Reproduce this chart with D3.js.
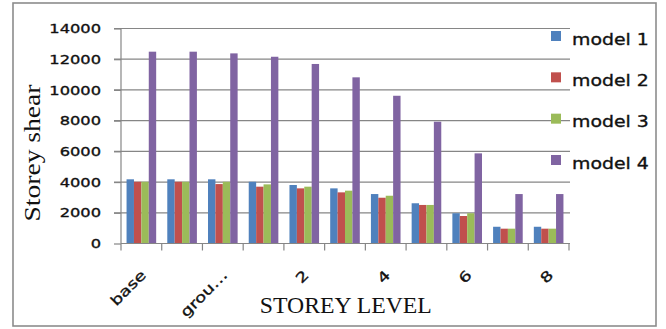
<!DOCTYPE html>
<html><head><meta charset="utf-8">
<script src="https://cdn.jsdelivr.net/npm/d3@7"></script>
<style>html,body{margin:0;padding:0;background:#fff;}svg{display:block;}</style>
</head><body>
<svg id="chart" width="666" height="329"></svg>
<script>
const categories = ["base","plinth","ground","1","2","3","4","5","6","7","8"];
const seriesNames = ["model 1","model 2","model 3","model 4"];
const model1 = [4180,4180,4180,4020,3810,3590,3220,2620,1970,1090,1090];
const model2 = [4020,4020,3870,3700,3590,3330,2980,2510,1790,965,965];
const model3 = [4020,4020,4020,3850,3700,3440,3110,2510,1970,965,965];
const model4 = [12490,12490,12380,12160,11690,10820,9620,7930,5870,3220,3220];
const yTicks = [0,2000,4000,6000,8000,10000,12000,14000];
const colors = ["#4F81BD","#C0504D","#9BBB59","#8064A2"];
const seriesValues = [model1, model2, model3, model4];

const svg = d3.select("#chart");
const sans = "DejaVu Sans, sans-serif";
const serif = "Liberation Serif, Times New Roman, serif";

function stretch(sel, k){
  sel.each(function(){
    const w = this.getComputedTextLength();
    d3.select(this).attr("textLength", w*k).attr("lengthAdjust","spacingAndGlyphs");
  });
}
function heavy(sel){ sel.attr("stroke","#111").attr("stroke-width",0.35); }

// frame
svg.append("rect").attr("x",13).attr("y",3).attr("width",643).attr("height",323)
  .attr("fill","#fff").attr("stroke","#8c8c8c").attr("stroke-width",1.6);

const x0 = d3.scaleBand().domain(categories).range([121,569]).paddingInner(0).paddingOuter(0);
const x1 = d3.scaleBand().domain(seriesNames).range([0,x0.bandwidth()]).paddingInner(0).paddingOuter(0.75);
const y = d3.scaleLinear().domain([0,14000]).range([243.5,28.5]);

// gridlines
svg.append("g").selectAll("line").data(yTicks.filter(d=>d>0)).join("line")
  .attr("x1",114).attr("x2",570).attr("y1",d=>y(d)).attr("y2",d=>y(d))
  .attr("stroke","#868686").attr("stroke-width",1.2);

// bars
const g = svg.append("g");
seriesValues.forEach((vals,si)=>{
  g.append("g").selectAll("rect").data(vals).join("rect")
    .attr("x",(d,i)=>x0(categories[i])+x1(seriesNames[si]))
    .attr("width",x1.bandwidth())
    .attr("y",d=>y(d)).attr("height",d=>y(0)-y(d))
    .attr("fill",colors[si]);
});

// y axis
const yAxis = svg.append("g").attr("transform","translate(121,0)")
  .call(d3.axisLeft(y).tickValues(yTicks).tickSize(7).tickPadding(14).tickFormat(d3.format("d")));
yAxis.select(".domain").attr("stroke","#868686").attr("stroke-width",1.2).attr("d","M0,28.5V243.5");
yAxis.selectAll(".tick line").attr("stroke","#868686").attr("stroke-width",1.2);
yAxis.selectAll("text").attr("font-family",sans).attr("font-size",13).attr("fill","#111").attr("x",-20);
stretch(yAxis.selectAll("text"),1.25);
heavy(yAxis.selectAll("text"));

// x axis
const xAxis = svg.append("g").attr("transform","translate(0,243.5)");
xAxis.append("line").attr("x1",121).attr("x2",570).attr("stroke","#868686").attr("stroke-width",1.2);
const bounds = categories.map(c=>x0(c)).concat([x0.range()[1]]);
xAxis.selectAll("line.tk").data(bounds).join("line").attr("class","tk")
  .attr("x1",d=>d).attr("x2",d=>d).attr("y1",0).attr("y2",7)
  .attr("stroke","#868686").attr("stroke-width",1.2);
const fmt = d => d.length>5 ? d.slice(0,4)+"\u2026" : d;
const xl = xAxis.selectAll("text.xl").data(categories.filter((c,i)=>i%2===0)).join("text").attr("class","xl")
  .attr("transform",d=>`translate(${x0(d)+x0.bandwidth()/2+5.5},32.5) rotate(-45)`)
  .attr("text-anchor","end").attr("font-family",sans).attr("font-size",14).attr("fill","#111")
  .text(fmt);
stretch(xl,1.3);
heavy(xl);

// axis titles
const yt = svg.append("text").attr("transform","translate(39.5,153) rotate(-90)")
  .attr("text-anchor","middle").attr("font-family",serif).attr("font-size",24).attr("fill","#111")
  .text("Storey shear");
yt.attr("textLength",137).attr("lengthAdjust","spacingAndGlyphs");
svg.append("text").attr("x",345.8).attr("y",312.7).attr("text-anchor","middle")
  .attr("font-family",serif).attr("font-size",24).attr("fill","#111")
  .attr("textLength",172).attr("lengthAdjust","spacingAndGlyphs")
  .text("STOREY LEVEL");

// legend
const ly = d3.scalePoint().domain(seriesNames).range([36,160]);
const leg = svg.append("g").selectAll("g").data(seriesNames).join("g")
  .attr("transform",d=>`translate(0,${ly(d)})`);
leg.append("rect").attr("x",551).attr("y",-5).attr("width",10).attr("height",10)
  .attr("fill",(d,i)=>colors[i]);
const lt = leg.append("text").attr("x",572).attr("y",8.5).attr("font-family",sans).attr("font-size",16)
  .attr("fill","#111").text(d=>d);
stretch(lt,1.18);
heavy(lt);
</script>
</body></html>
